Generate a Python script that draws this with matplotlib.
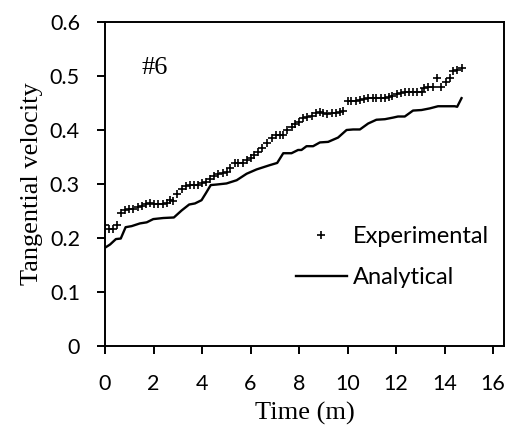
import matplotlib
matplotlib.use("Agg")
import matplotlib.pyplot as plt

# measured tangential velocity (experimental) vs time
exp_time = [0.00, 0.18, 0.34, 0.51, 0.66, 0.82, 0.99, 1.17, 1.35, 1.51,
            1.69, 1.85, 2.03, 2.20, 2.38, 2.54, 2.68, 2.81, 2.98, 3.16,
            3.34, 3.50, 3.67, 3.84, 3.98, 4.16, 4.33, 4.49, 4.67, 4.85,
            5.01, 5.15, 5.36, 5.49, 5.67, 5.84, 6.00, 6.14, 6.32, 6.49,
            6.67, 6.87, 7.05, 7.21, 7.35, 7.51, 7.69, 7.83, 8.01, 8.17,
            8.34, 8.52, 8.69, 8.86, 8.99, 9.16, 9.34, 9.52, 9.68, 9.82,
            10.00, 10.16, 10.34, 10.51, 10.67, 10.85, 11.03, 11.19, 11.36, 11.54,
            11.70, 11.85, 12.02, 12.20, 12.36, 12.54, 12.70, 12.87, 13.05, 13.16,
            13.32, 13.53, 13.67, 13.84, 14.04, 14.21, 14.35, 14.52, 14.70]
exp_vel = [0.224, 0.216, 0.216, 0.224, 0.247, 0.252, 0.253, 0.254, 0.257, 0.259,
           0.263, 0.264, 0.263, 0.263, 0.263, 0.265, 0.270, 0.269, 0.281, 0.291,
           0.296, 0.298, 0.298, 0.298, 0.301, 0.304, 0.309, 0.315, 0.319, 0.320,
           0.322, 0.329, 0.338, 0.339, 0.338, 0.344, 0.348, 0.354, 0.360, 0.367,
           0.376, 0.385, 0.391, 0.391, 0.391, 0.400, 0.405, 0.412, 0.414, 0.422,
           0.424, 0.426, 0.431, 0.433, 0.432, 0.430, 0.431, 0.432, 0.434, 0.436,
           0.454, 0.454, 0.454, 0.456, 0.457, 0.459, 0.459, 0.459, 0.459, 0.459,
           0.461, 0.463, 0.467, 0.468, 0.470, 0.470, 0.470, 0.470, 0.470, 0.478,
           0.479, 0.480, 0.496, 0.480, 0.489, 0.496, 0.510, 0.512, 0.514]

# analytical solution
ana_time = [0.00, 0.21, 0.45, 0.65, 0.85, 1.10, 1.44, 1.72, 1.99, 2.40,
            2.84, 3.16, 3.47, 3.71, 3.98, 4.16, 4.36, 4.60, 5.01, 5.43,
            5.84, 6.25, 6.80, 7.10, 7.35, 7.69, 7.96, 8.10, 8.31, 8.58,
            8.86, 9.20, 9.61, 9.96, 10.23, 10.51, 10.85, 11.19, 11.54, 11.88,
            12.08, 12.36, 12.70, 13.05, 13.39, 13.73, 14.08, 14.42, 14.52, 14.70]
ana_vel = [0.182, 0.188, 0.198, 0.199, 0.220, 0.222, 0.227, 0.229, 0.235, 0.237,
           0.238, 0.251, 0.262, 0.264, 0.270, 0.283, 0.298, 0.299, 0.301, 0.307,
           0.319, 0.327, 0.335, 0.339, 0.357, 0.357, 0.363, 0.363, 0.370, 0.370,
           0.377, 0.378, 0.386, 0.400, 0.401, 0.401, 0.412, 0.419, 0.420, 0.423,
           0.425, 0.425, 0.436, 0.437, 0.440, 0.444, 0.444, 0.444, 0.443, 0.459]

x_ticks = [0, 2, 4, 6, 8, 10, 12, 14, 16]
y_ticks = [0, 0.1, 0.2, 0.3, 0.4, 0.5, 0.6]

sans = ['Lato', 'DejaVu Sans']
serif = ['Liberation Serif', 'DejaVu Serif']

fig = plt.figure(figsize=(5.06, 4.29), dpi=100)
ax = fig.add_axes([0.2075, 0.1935, 0.7885, 0.7552])

ax.plot(exp_time, exp_vel, '+', color='black', markersize=5.5, markeredgewidth=1.2,
        label='Experimental')
ax.plot(ana_time, ana_vel, '-', color='black', linewidth=1.7, label='Analytical')

ax.set_xlim(0, 16.45)
ax.set_ylim(0, 0.6)
ax.set_xticks(x_ticks)
ax.set_xticklabels([str(t) for t in x_ticks])
ax.set_yticks(y_ticks)
ax.set_yticklabels(['0'] + ['%.1f' % t for t in y_ticks[1:]])
ax.tick_params(direction='out', length=6, width=1.4, labelsize=15.5)
ax.tick_params(axis='x', pad=14)
ax.tick_params(axis='y', pad=12)
for lab in ax.get_xticklabels() + ax.get_yticklabels():
    lab.set_family(sans)
for sp in ax.spines.values():
    sp.set_linewidth(1.4)

ax.set_xlabel('Time (m)', family=serif, fontsize=19, labelpad=6)
ax.set_ylabel('Tangential velocity', family=serif, fontsize=19, labelpad=5)
ax.text(2.06, 0.515, '#6', family=serif, fontsize=19, ha='center', va='center')

leg = ax.legend(loc='center left', bbox_to_anchor=(0.455, 0.275), frameon=False,
                prop={'family': sans, 'size': 17}, handlelength=2.16,
                handletextpad=0.25, labelspacing=0.85, borderaxespad=0)

fig.savefig('out.png', dpi=100)
